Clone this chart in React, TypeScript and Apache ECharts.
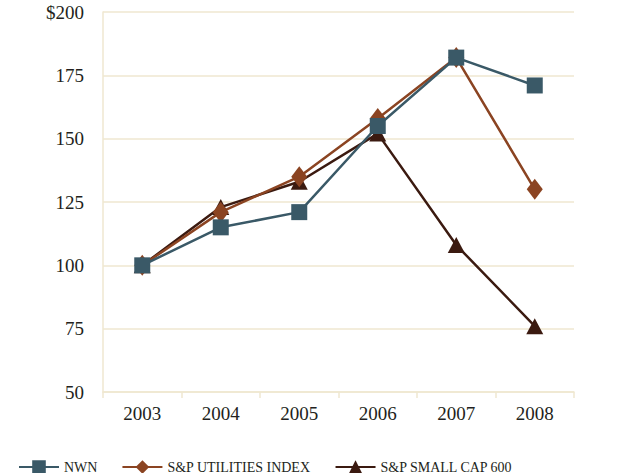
import React, { useEffect, useRef } from "react";
import * as echarts from "echarts";

const years = ["2003", "2004", "2005", "2006", "2007", "2008"];
const nwn = [100, 115, 121, 155, 182, 171];
const utilities = [100, 121, 135, 158, 182, 130];
const smallCap = [100, 123, 133, 152, 108, 76];

const FONT = "'Liberation Serif', 'DejaVu Serif', serif";
const TEXT = "#231f20";
const RULE = "#efe7d0";

export default function App() {
  const ref = useRef<HTMLDivElement>(null);

  useEffect(() => {
    if (!ref.current) return;
    const chart = echarts.init(ref.current, undefined, { renderer: "svg" });
    const line = (name: string, data: number[], color: string, symbol: string, size: number | number[]) => ({
      name,
      type: "line",
      data,
      symbol,
      symbolSize: size,
      lineStyle: { color, width: 2.5 },
      itemStyle: { color },
    });
    chart.setOption({
      animation: false,
      backgroundColor: "#ffffff",
      textStyle: { fontFamily: FONT, color: TEXT },
      grid: { left: 103, right: 58, top: 12, bottom: 81 },
      legend: {
        left: 13,
        top: 455,
        itemWidth: 40,
        itemHeight: 17,
        itemGap: 24,
        textStyle: { fontFamily: FONT, fontSize: 14, lineHeight: 14, color: TEXT },
        data: [
          { name: "NWN" },
          { name: "S&P UTILITIES INDEX" },
          { name: "S&P SMALL CAP 600" },
        ],
      },
      xAxis: {
        type: "category",
        data: years,
        boundaryGap: true,
        axisLine: { lineStyle: { color: RULE, width: 1.5 } },
        axisTick: { show: true, length: 6, lineStyle: { color: RULE, width: 1.5 } },
        axisLabel: { fontFamily: FONT, fontSize: 19, color: TEXT, margin: 12 },
      },
      yAxis: {
        type: "value",
        min: 50,
        max: 200,
        interval: 25,
        axisLine: { show: true, lineStyle: { color: RULE, width: 1.5 } },
        axisTick: { show: false },
        splitLine: { lineStyle: { color: RULE, width: 1.5 } },
        axisLabel: {
          fontFamily: FONT,
          fontSize: 19,
          color: TEXT,
          margin: 19,
          formatter: (v: number) => (v === 200 ? "$200" : String(v)),
        },
      },
      series: [
        line("S&P SMALL CAP 600", smallCap, "#3b1a10", "triangle", [17, 16]),
        line("S&P UTILITIES INDEX", utilities, "#8b4422", "diamond", [16, 21]),
        line("NWN", nwn, "#3a5967", "rect", 16),
      ],
    });
    return () => chart.dispose();
  }, []);

  return <div ref={ref} style={{ width: 632, height: 473, position: "absolute", left: 0, top: 0 }} />;
}
